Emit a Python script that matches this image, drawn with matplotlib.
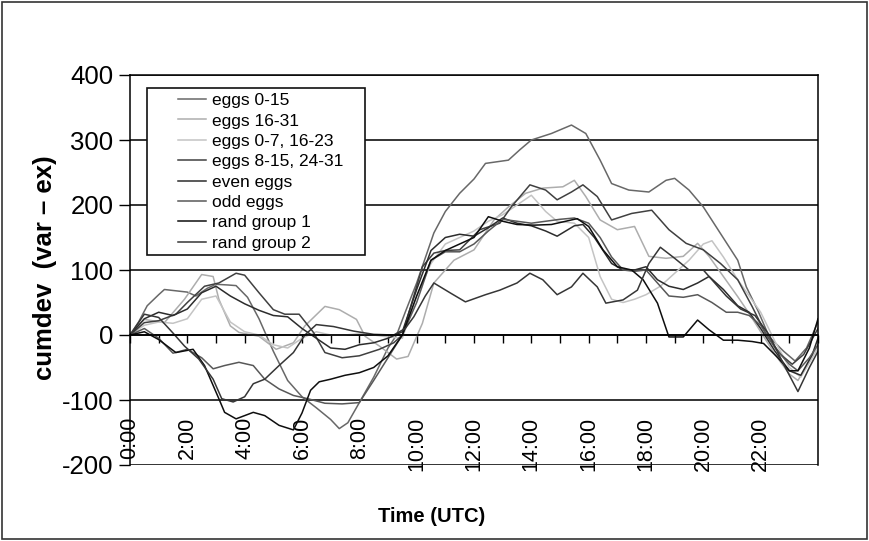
import matplotlib
matplotlib.use("Agg")
import matplotlib.pyplot as plt
from matplotlib.patches import Rectangle

plt.rcParams['font.family'] = ['Liberation Sans', 'DejaVu Sans']
plt.rcParams['axes.unicode_minus'] = False

# Tid i timer (UTC) og kumulativ avvik for hver gruppe, lest av figuren
t_eggs_0_15 = [0, 0.3, 0.6, 1.0, 1.2, 1.6, 2.0, 2.3, 2.7, 3.0, 3.4, 3.7, 4.1, 4.5, 5.0, 5.5, 6.0, 6.5, 7.0, 7.3,
               7.6, 8.0, 8.5, 9.0, 9.3, 9.6, 10.0, 10.6, 11.0, 11.5, 12.0, 12.4, 13.2, 13.6, 14.0, 14.7, 15.4,
               15.9, 16.4, 16.8, 17.4, 18.1, 18.7, 19.0, 19.5, 20.0, 20.6, 21.2, 21.5, 21.9, 22.3, 22.8, 23.2,
               23.6, 24.0]
v_eggs_0_15 = [0, 20, 45, 62, 70, 68, 66, 60, 72, 78, 77, 76, 58, 25, -25, -70, -95, -112, -130, -144,
               -135, -104, -65, -20, 0, 35, 80, 157, 190, 218, 240, 264, 269, 285, 300, 310, 323,
               310, 269, 233, 223, 220, 238, 241, 223, 197, 156, 115, 74, 38, -3, -25, -40,
               -20, 20]

t_eggs_16_31 = [0, 0.5, 1.2, 1.9, 2.5, 2.9, 3.1, 3.5, 3.8, 4.5, 5.1, 5.7, 6.1, 6.8, 7.3, 7.9, 8.2, 8.7, 9.3,
                9.7, 10.2, 10.6, 11.3, 12.0, 12.7, 13.2, 13.8, 14.4, 15.1, 15.5, 15.9, 16.4, 17.0, 17.6, 18.1,
                18.7, 19.3, 19.8, 20.2, 20.7, 21.2, 21.6, 22.0, 22.5, 23.0, 23.3, 23.7, 24.0]
v_eggs_16_31 = [0, 24, 19, 55, 93, 90, 55, 14, 4, -2, -22, -12, 14, 44, 39, 24, -2, -17, -37,
                -33, 18, 80, 115, 131, 177, 197, 218, 226, 228, 238, 213, 177, 162, 167, 121,
                118, 121, 141, 121, 90, 59, 33, 5, -30, -60, -70, -40, -15]

t_eggs_0_7_16_23 = [0, 0.5, 1, 1.5, 2, 2.5, 3.0, 3.5, 4.0, 4.5, 5, 5.5, 6.0, 6.5, 7, 7.5, 8, 8.5, 9, 9.5,
                    10, 10.5, 11, 11.5, 12, 12.5, 13, 13.5, 14, 14.5, 14.9, 15.5, 16, 16.4, 16.8, 17.2, 17.6,
                    18.0, 18.5, 19.0, 19.5, 20.0, 20.3, 20.7, 21.2, 21.6, 22.0, 22.5, 23.0, 23.4, 23.8, 24.0]
v_eggs_0_7_16_23 = [0, 15, 20, 18, 25, 55, 60, 20, 5, 0, -15, -20, -5, 5, 0, 0, 2, 0, -3, -5,
                    60, 110, 140, 150, 160, 175, 185, 200, 215, 190, 175, 172, 150, 90, 55, 50, 55,
                    62, 75, 95, 115, 140, 145, 120, 85, 60, 35, -10, -50, -65, -35, -20]

t_eggs_8_15_24_31 = [0, 0.5, 1.0, 1.6, 2.0, 2.6, 3.1, 3.7, 4.0, 4.5, 5.0, 5.4, 5.9, 6.4, 6.8, 7.4, 8.0, 8.7,
                     9.2, 9.5, 9.8, 10.2, 10.6, 11.0, 11.5, 12.2, 12.9, 13.3, 13.95, 14.5, 14.9, 15.4, 15.8,
                     16.3, 16.8, 17.5, 18.2, 18.8, 19.4, 20.0, 20.6, 21.2, 21.7, 22.2, 22.7, 23.1, 23.5, 24.0]
v_eggs_8_15_24_31 = [0, 19, 22, 32, 50, 75, 80, 95, 92, 65, 39, 32, 32, 4, -27, -35, -32, -22,
                     -12, 0, 45, 105, 126, 130, 131, 162, 172, 197, 231, 223, 208, 220, 231,
                     213, 177, 187, 192, 162, 141, 131, 110, 85, 44, 0, -30, -45, -30, 10]

t_even = [0, 0.5, 1, 1.5, 2, 2.5, 3, 3.5, 4, 4.5, 5, 5.5, 6, 6.5, 7, 7.5, 8, 8.5, 9, 9.5, 10, 10.5, 11,
          11.5, 12, 12.5, 13, 13.5, 14, 14.5, 14.9, 15.5, 15.8, 16.2, 16.5, 16.8, 17.2, 17.6, 18.0, 18.4,
          18.8, 19.3, 19.8, 20.2, 20.7, 21.2, 21.6, 22.0, 22.5, 23.0, 23.4, 23.8, 24.0]
v_even = [0, 25, 35, 30, 40, 65, 75, 60, 48, 38, 30, 28, 10, -5, -20, -22, -15, -12, -5, 5, 70, 130, 150,
          155, 152, 165, 180, 172, 168, 160, 152, 168, 170, 150, 130, 110, 100, 100, 105, 85,
          75, 70, 80, 90, 70, 45, 35, 10, -25, -55, -62, -30, -5]

t_odd = [0, 0.5, 1, 1.5, 2, 2.5, 2.9, 3.3, 3.8, 4.3, 4.7, 5.2, 5.7, 6.2, 6.8, 7.4, 8.0, 8.5, 9.0, 9.5,
         10.0, 10.5, 11.0, 11.5, 12.0, 12.5, 13.0, 13.5, 14.0, 14.5, 15.0, 15.5, 16.0, 16.4, 16.8, 17.2,
         17.6, 18.0, 18.4, 18.8, 19.3, 19.8, 20.3, 20.8, 21.2, 21.6, 22.0, 22.5, 23.0, 23.3, 23.7, 24.0]
v_odd = [0, 10, -5, -28, -22, -35, -52, -47, -42, -47, -68, -83, -93, -98, -105, -106, -104, -70, -35, 0,
         50, 115, 128, 128, 140, 160, 178, 175, 172, 175, 178, 180, 172, 150, 120, 100,
         98, 100, 80, 60, 58, 62, 50, 35, 35, 30, 15, -20, -45, -55, -35, -15]

t_rand1 = [0, 0.5, 1, 1.6, 2.2, 2.6, 3.1, 3.3, 3.7, 4.3, 4.7, 5.2, 5.7, 6.0, 6.3, 6.6, 7.0, 7.5, 8.0, 8.5,
           9.0, 9.5, 10.0, 10.5, 11.0, 11.5, 12.0, 12.5, 13.0, 13.5, 14.1, 14.7, 15.2, 15.6, 16.0, 16.5,
           17.0, 17.5, 17.9, 18.4, 18.8, 19.3, 19.8, 20.2, 20.7, 21.2, 21.7, 22.1, 22.6, 23.0, 23.3, 23.7,
           24.0]
v_rand1 = [0, 5, -7, -27, -22, -47, -98, -119, -129, -119, -124, -139, -146, -120, -85, -72, -68, -62, -58,
           -50, -32, 0, 60, 115, 130, 140, 150, 182, 175, 170, 169, 170, 175, 179, 167, 131,
           105, 100, 85, 49, -3, -3, 23, 8, -8, -8, -10, -13, -35, -55, -55, -20, 25]

t_rand2 = [0, 0.5, 1, 1.5, 1.9, 2.4, 2.9, 3.2, 3.6, 4.0, 4.3, 4.7, 5.2, 5.7, 6.1, 6.5, 7.1, 7.8, 8.5, 9.2,
           9.6, 9.9, 10.3, 10.6, 11.2, 11.7, 12.4, 12.9, 13.5, 13.95, 14.4, 14.9, 15.4, 15.8, 16.3, 16.6,
           17.2, 17.7, 18.1, 18.5, 19.0, 19.5, 20.0, 20.5, 20.8, 21.3, 21.8, 22.3, 22.8, 23.3, 23.7, 24.0]
v_rand2 = [0, 32, 27, 3, -17, -37, -68, -98, -103, -95, -75, -68, -47, -27, 0, 16, 13, 6, 1, 0,
           10, 28, 60, 80, 64, 51, 62, 69, 80, 95, 85, 62, 74, 95, 74, 49,
           54, 69, 110, 135, 118, 100, 100, 75, 60, 40, 30, 0, -45, -87, -50, -25]

labels = ["eggs 0-15", "eggs 16-31", "eggs 0-7, 16-23", "eggs 8-15, 24-31",
          "even eggs", "odd eggs", "rand group 1", "rand group 2"]
times = [t_eggs_0_15, t_eggs_16_31, t_eggs_0_7_16_23, t_eggs_8_15_24_31, t_even, t_odd, t_rand1, t_rand2]
values = [v_eggs_0_15, v_eggs_16_31, v_eggs_0_7_16_23, v_eggs_8_15_24_31, v_even, v_odd, v_rand1, v_rand2]
colors = ["#686868", "#adadad", "#c4c4c4", "#404040", "#2c2c2c", "#585858", "#0e0e0e", "#363636"]
tick_hours = list(range(0, 24, 2))
tick_labels = ["{}:00".format(h) for h in tick_hours]

fig = plt.figure(figsize=(8.69, 5.41), dpi=100)
ax = fig.add_axes([130 / 869, 1 - 465 / 541, 688 / 869, 390 / 541])

for t, v, c, lab in zip(times, values, colors, labels):
    ax.plot(t, v, color=c, lw=1.1, label=lab)

ax.set_xlim(0, 24)
ax.set_ylim(-200, 400)
ax.set_yticks(range(-200, 401, 100))
ax.grid(axis='y', color='#111111', lw=1.2)
ax.set_axisbelow(True)
ax.tick_params(axis='y', direction='out', length=8, width=1, pad=4, labelsize=18.5)

# x-aksen krysser ved 0, etikettene står nede i plottet
ax.spines['bottom'].set_position(('data', 0))
ax.spines['bottom'].set_linewidth(1.2)
ax.set_xticks(tick_hours)
ax.set_xticklabels(tick_labels, rotation=90)
ax.set_xticks(range(0, 25), minor=True)
ax.tick_params(axis='x', which='both', direction='out', length=6, width=1)
ax.tick_params(axis='x', which='major', pad=53, labelsize=15.5)
for s in ['left', 'right', 'top']:
    ax.spines[s].set_linewidth(1.1)

fig.text(45 / 869, 1 - 268 / 541, "cumdev  (var \u2013 ex)", rotation=90, ha='center', va='center',
         fontsize=18.5, fontweight='bold')
fig.text(432 / 869, 1 - 516 / 541, "Time (UTC)", ha='center', va='center', fontsize=14.5, fontweight='bold')

# legende med egen ramme
leg = fig.legend(loc='upper left', bbox_to_anchor=(178 / 869, 1 - 93 / 541), frameon=False,
                 fontsize=12.5, handlelength=1.6, handletextpad=0.35, labelspacing=0.3, borderpad=0,
                 borderaxespad=0)
fig.patches.append(Rectangle((147 / 869, 1 - 255 / 541), 218 / 869, 167 / 541, transform=fig.transFigure,
                             fill=True, facecolor='white', edgecolor='#111111', lw=1.2, zorder=2))
leg.set_zorder(3)

# ramme rundt hele figuren
fig.patches.append(Rectangle((2 / 869, 2 / 541), 865 / 869, 537 / 541, transform=fig.transFigure,
                             fill=False, edgecolor='#333333', lw=1.2))

fig.savefig("out.png", dpi=100)
